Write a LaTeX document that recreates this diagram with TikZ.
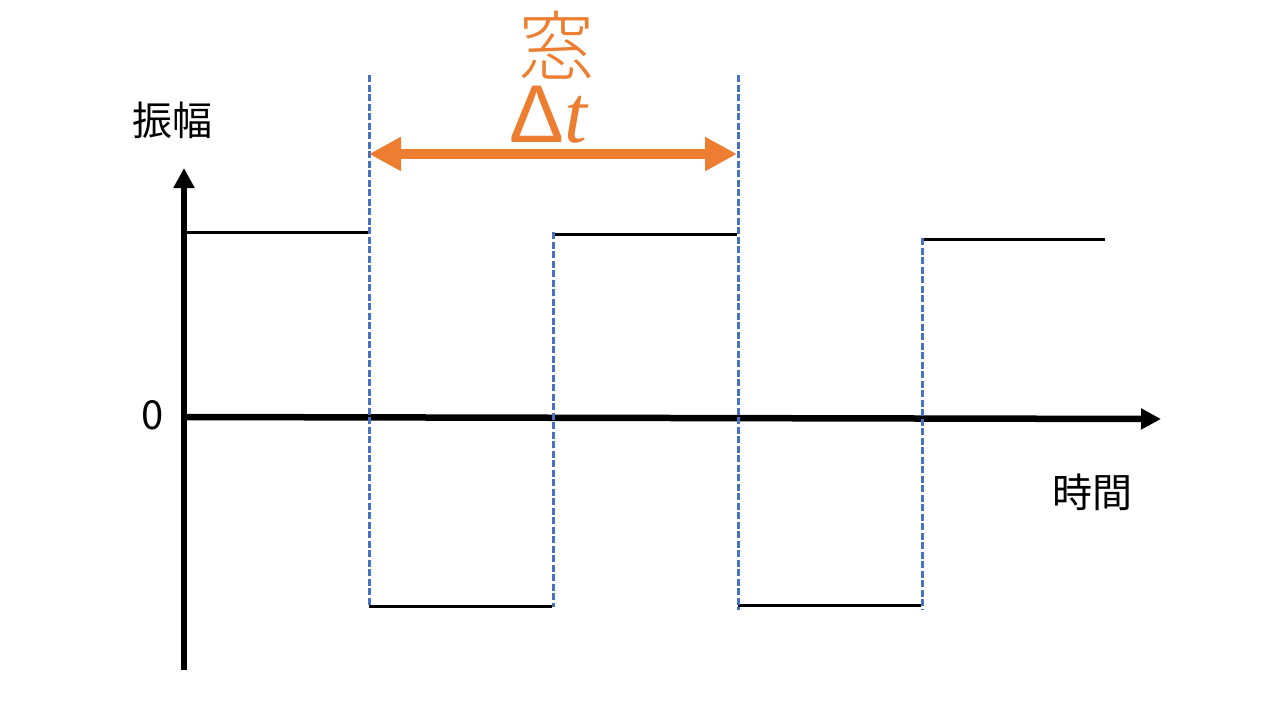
\documentclass[tikz,border=0pt]{standalone}
\usepackage{fontspec}
\newfontfamily\cjk{Noto Sans CJK JP}
\newfontfamily\cjkthin{Noto Sans CJK JP Light}
\newfontfamily\greek{Liberation Sans}
\newfontfamily\slant{Liberation Serif}
\usetikzlibrary{arrows.meta}
\definecolor{winorange}{RGB}{237,125,49}
\definecolor{guideblue}{RGB}{68,114,196}

\begin{document}
\begin{tikzpicture}[
			x=1pt, y=-1pt,
			axis/.style = {line width=6.5pt, -{Triangle[length=20pt, width=20pt]}},
			signal/.style = {line width=3pt},
			guide/.style = {guideblue, line width=3pt, dash pattern=on 7pt off 2.5pt},
			window/.style = {winorange, line width=10pt, {Triangle[length=32pt, width=32pt]}-{Triangle[length=32pt, width=32pt]}},
			label/.style = {font=\cjk\fontsize{40}{44}\selectfont, inner sep=0pt}
		]
		\useasboundingbox (0,0) rectangle (1280,720);
		% axes
		\coordinate (o) at (184,417);
		\coordinate (ybot) at (184,670);
		\coordinate (ytop) at (184,168);
		\coordinate (xend) at (1161,419);
		\draw[axis] (ybot) -- (ytop);
		\draw[axis] (o) -- (xend);
		\node[label] (amp) at (172,120) {振幅};
		\node[label] (zero) at (153,415) {0};
		\node[label] (time) at (1092,492) {時間};
		% square wave
		\coordinate (h0) at (187,232);
		\coordinate (h1) at (368,232);
		\coordinate (l1) at (369,606);
		\coordinate (l2) at (552,606);
		\coordinate (h2) at (553,234);
		\coordinate (h3) at (737,234);
		\coordinate (l3) at (738,605);
		\coordinate (l4) at (921,605);
		\coordinate (h4) at (921,239);
		\coordinate (h5) at (1105,239);
		\draw[signal] (h0) -- (h1);
		\draw[signal] (l1) -- (l2);
		\draw[signal] (h2) -- (h3);
		\draw[signal] (l3) -- (l4);
		\draw[signal] (h4) -- (h5);
		% window boundaries
		\coordinate (g1top) at (369,75);
		\coordinate (g1bot) at (369,607);
		\coordinate (g2top) at (553,232);
		\coordinate (g2bot) at (553,607);
		\coordinate (g3top) at (738,75);
		\coordinate (g3bot) at (738,610);
		\coordinate (g4top) at (922,238);
		\coordinate (g4bot) at (922,610);
		\draw[guide] (g1top) -- (g1bot);
		\draw[guide] (g2top) -- (g2bot);
		\draw[guide] (g3top) -- (g3bot);
		\draw[guide] (g4top) -- (g4bot);
		% window width
		\coordinate (wl) at (369,154);
		\coordinate (wr) at (737,154);
		\draw[window] (wl) -- (wr);
		\node[inner sep=0pt, winorange, font=\cjkthin\fontsize{76}{80}\selectfont] (win) at (556,45) {窓};
		\node[inner sep=0pt, winorange, font=\fontsize{82}{84}\selectfont, anchor=base] (dt) at (548,142) {{\greek Δ}{\slant\itshape t}};
	\end{tikzpicture}
\end{document}
